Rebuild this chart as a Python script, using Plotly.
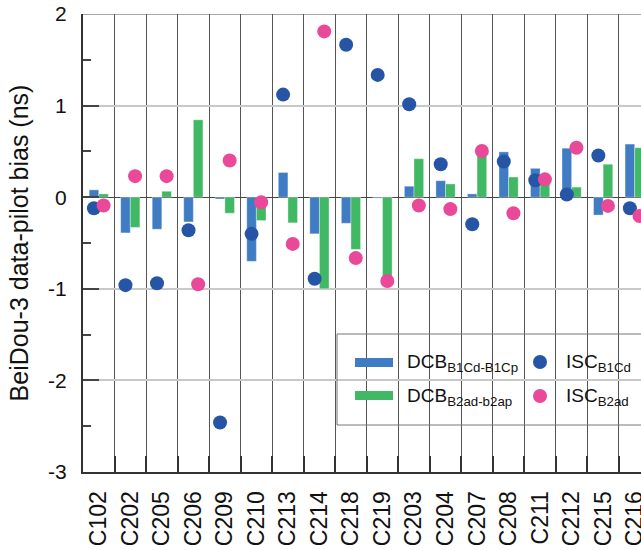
import plotly.graph_objects as go

categories = ["C102", "C202", "C205", "C206", "C209", "C210", "C213", "C214", "C218",
              "C219", "C203", "C204", "C207", "C208", "C211", "C212", "C215", "C216"]
dcb_b1 = [0.08, -0.39, -0.35, -0.27, -0.02, -0.70, 0.27, -0.40, -0.285,
          -0.01, 0.12, 0.18, 0.036, 0.495, 0.315, 0.535, -0.195, 0.58]
dcb_b2 = [0.036, -0.33, 0.065, 0.845, -0.175, -0.255, -0.28, -1.0, -0.57,
          -0.88, 0.42, 0.145, 0.47, 0.22, 0.19, 0.11, 0.36, 0.54]
isc_b1 = [-0.12, -0.96, -0.94, -0.36, -2.46, -0.40, 1.12, -0.89, 1.665,
          1.335, 1.015, 0.36, -0.295, 0.39, 0.185, 0.03, 0.455, -0.12]
isc_b2 = [-0.09, 0.23, 0.23, -0.95, 0.40, -0.055, -0.51, 1.81, -0.665,
          -0.915, -0.09, -0.13, 0.505, -0.175, 0.195, 0.54, -0.095, -0.205]
y_tickvals = [-3, -2, -1, 0, 1, 2]
y_ticktext = ["-3", "-2", "-1", "0", "1", "2"]

C_BLUE_BAR = "#3f7cc3"
C_GREEN_BAR = "#40b864"
C_BLUE_DOT = "#2655a6"
C_PINK_DOT = "#ea4898"
FONT = "Arial, Liberation Sans, sans-serif"

W, H = 641, 550
ML, MR, MT, MB = 83, 0, 14, 78
PW, PH = W - ML - MR, H - MT - MB

BARGAP = 0.39
off = (1 - BARGAP) / 4
idx = list(range(len(categories)))

fig = go.Figure()
fig.add_trace(go.Bar(x=idx, y=dcb_b1, name="DCB B1Cd-B1Cp", marker_color=C_BLUE_BAR,
                     marker_line=dict(color="rgba(255,255,255,0.35)", width=1)))
fig.add_trace(go.Bar(x=idx, y=dcb_b2, name="DCB B2ad-b2ap", marker_color=C_GREEN_BAR,
                     marker_line=dict(color="rgba(255,255,255,0.35)", width=1)))
fig.add_trace(go.Scatter(x=[i - off for i in idx], y=isc_b1, mode="markers", name="ISC B1Cd",
                         marker=dict(size=14, color=C_BLUE_DOT)))
fig.add_trace(go.Scatter(x=[i + off for i in idx], y=isc_b2, mode="markers", name="ISC B2ad",
                         marker=dict(size=14, color=C_PINK_DOT)))

cat_w = 31.525
x_end = (W - ML) / cat_w - 0.5

def px(x):
    return (x - ML) / PW

def py(y):
    return (H - MB - y) / PH

shapes = [
    # top border
    dict(type="line", xref="paper", yref="y", x0=0, x1=1, y0=2, y1=2,
         line=dict(color="#555", width=1.2)),
    # dark line at -2
    dict(type="line", xref="paper", yref="y", x0=0, x1=1, y0=-2, y1=-2,
         line=dict(color="#555", width=1), layer="below"),
    # legend box
    dict(type="rect", xref="paper", yref="paper", x0=px(337), x1=px(660),
         y0=py(425), y1=py(334), line=dict(color="#777", width=1)),
    dict(type="rect", xref="paper", yref="paper", x0=px(355), x1=px(393),
         y0=py(367), y1=py(358), line=dict(width=0), fillcolor=C_BLUE_BAR),
    dict(type="rect", xref="paper", yref="paper", x0=px(355), x1=px(393),
         y0=py(400), y1=py(391), line=dict(width=0), fillcolor=C_GREEN_BAR),
    dict(type="circle", xref="paper", yref="paper", x0=px(533), x1=px(547),
         y0=py(369), y1=py(355), line=dict(width=0), fillcolor=C_BLUE_DOT),
    dict(type="circle", xref="paper", yref="paper", x0=px(533), x1=px(547),
         y0=py(403), y1=py(389), line=dict(width=0), fillcolor=C_PINK_DOT),
]

annotations = []
for txt, x, y in [("DCB<sub>B1Cd-B1Cp</sub>", 405, 363),
                  ("DCB<sub>B2ad-b2ap</sub>", 405, 397),
                  ("ISC<sub>B1Cd</sub>", 564, 363),
                  ("ISC<sub>B2ad</sub>", 564, 397)]:
    annotations.append(dict(text=txt, xref="paper", yref="paper", x=px(x), y=py(y),
                            xanchor="left", yanchor="middle", showarrow=False,
                            font=dict(family=FONT, size=19, color="#111")))

fig.update_layout(
    width=W, height=H,
    margin=dict(l=ML, r=MR, t=MT, b=MB, autoexpand=False),
    paper_bgcolor="white", plot_bgcolor="white",
    barmode="group", bargap=BARGAP, bargroupgap=0,
    showlegend=False,
    font=dict(family=FONT, color="#111"),
    shapes=shapes, annotations=annotations,
    xaxis=dict(
        range=[-0.5, x_end], tickmode="array", tickvals=idx, ticktext=categories,
        tickangle=-90, tickfont=dict(size=23, family=FONT, color="#111"),
        ticks="", showgrid=False, zeroline=False, automargin=False,
        showline=True, linecolor="#333", linewidth=2,
        ticklabelstandoff=8, ticklabeloverflow="allow",
        minor=dict(tickmode="array", tickvals=[i + 0.5 for i in idx],
                   ticks="inside", ticklen=16, tickwidth=2, tickcolor="#333",
                   showgrid=True, gridcolor="#555", gridwidth=1),
    ),
    yaxis=dict(
        range=[-3, 2], tickmode="array", tickvals=y_tickvals, ticktext=y_ticktext,
        ticks="inside", ticklen=16, tickwidth=2, tickcolor="#444",
        tickfont=dict(size=21, family=FONT, color="#111"), automargin=False,
        showgrid=True, gridcolor="#c8c8c8", gridwidth=2,
        zeroline=True, zerolinecolor="#444", zerolinewidth=1.2,
        showline=True, linecolor="#333", linewidth=2,
        ticklabelstandoff=10,
        minor=dict(tickmode="linear", tick0=0, dtick=0.5, ticks="inside", ticklen=8,
                   tickwidth=2, tickcolor="#444", showgrid=False),
        title=dict(text="BeiDou-3 data-pilot bias (ns)",
                   font=dict(size=25, family=FONT, color="#111"), standoff=12),
    ),
)

fig.write_html("out.html")
